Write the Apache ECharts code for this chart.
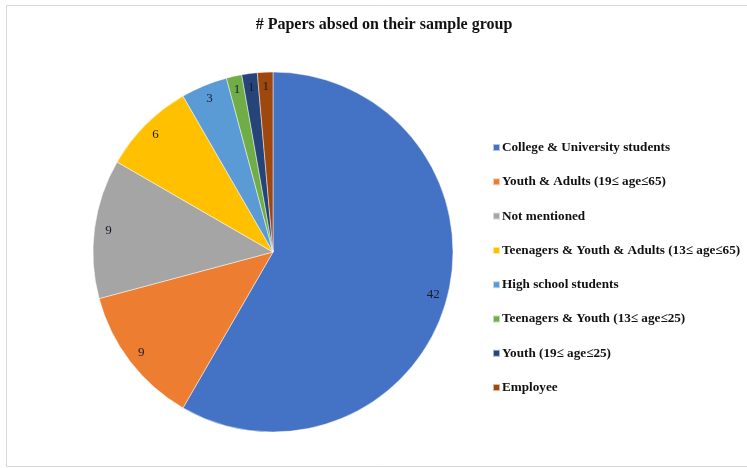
<!DOCTYPE html>
<html lang="en">
<head>
	<meta charset="utf-8">
	<title># Papers absed on their sample group</title>
	<script src="https://cdn.jsdelivr.net/npm/echarts@6/dist/echarts.min.js"></script>
	<style>
		html, body { margin: 0; padding: 0; background: #fff; }
		#chart { width: 747px; height: 468px; }
	</style>
</head>
<body>
<div id="chart"></div>
<script>
    var categories = [ 'College & University students', 'Youth & Adults (19\u2264 age\u226465)',
        'Not mentioned', 'Teenagers & Youth & Adults (13\u2264 age\u226465)', 'High school students',
        'Teenagers & Youth (13\u2264 age\u226425)', 'Youth (19\u2264 age\u226425)', 'Employee' ];
    var values = [ 42, 9, 9, 6, 3, 1, 1, 1 ];
    var colors = [ '#4472C4', '#ED7D31', '#A5A5A5', '#FFC000', '#5B9BD5', '#70AD47', '#264478', '#9E480E' ];

    var pieData = categories.map(function (name, i) {
        return { name: name, value: values[i] };
    });

    var chart = echarts.init(document.getElementById('chart'));
    var option = {
        color: colors,
        animation: false,
        textStyle: { fontFamily: 'Liberation Serif' },
        title: {
            text: '# Papers absed on their sample group',
            left: 379,
            top: 12,
            textAlign: 'center',
            textStyle: { fontFamily: 'Liberation Serif', fontSize: 16, fontWeight: 'bold', color: '#111' }
        },
        graphic: [ {
            type: 'rect',
            shape: { x: 6.5, y: 5.5, width: 745, height: 461 },
            style: { fill: 'none', stroke: '#d9d9d9', lineWidth: 1 },
            silent: true
        } ],
        legend: {
            orient: 'vertical',
            left: 487,
            top: 136,
            itemWidth: 7,
            itemHeight: 7,
            itemGap: 21.3,
            icon: 'rect',
            data: categories,
            textStyle: { fontFamily: 'Liberation Serif', fontSize: 13.2, fontWeight: 'bold', color: '#111', padding: [ 0, 0, 0, -3 ] }
        },
        series: [ {
            type: 'pie',
            center: [ 273, 252 ],
            radius: [ 0, 180 ],
            startAngle: 90,
            clockwise: true,
            data: pieData,
            label: { show: false },
            labelLine: { show: false },
            itemStyle: { borderColor: 'rgba(255,255,255,0.6)', borderWidth: 0.8 },
            emphasis: { disabled: true }
        }, {
            // transparent ring used only to place the value labels near the rim
            type: 'pie',
            center: [ 273, 252 ],
            radius: [ 146, 180 ],
            startAngle: 90,
            clockwise: true,
            silent: true,
            data: pieData,
            itemStyle: { color: 'rgba(0,0,0,0)' },
            label: {
                show: true,
                position: 'inside',
                formatter: '{c}',
                fontFamily: 'Liberation Serif',
                fontSize: 13,
                color: '#1a1a2a'
            },
            labelLine: { show: false },
            emphasis: { disabled: true }
        } ]
    };
    chart.setOption(option);
</script>
</body>
</html>
